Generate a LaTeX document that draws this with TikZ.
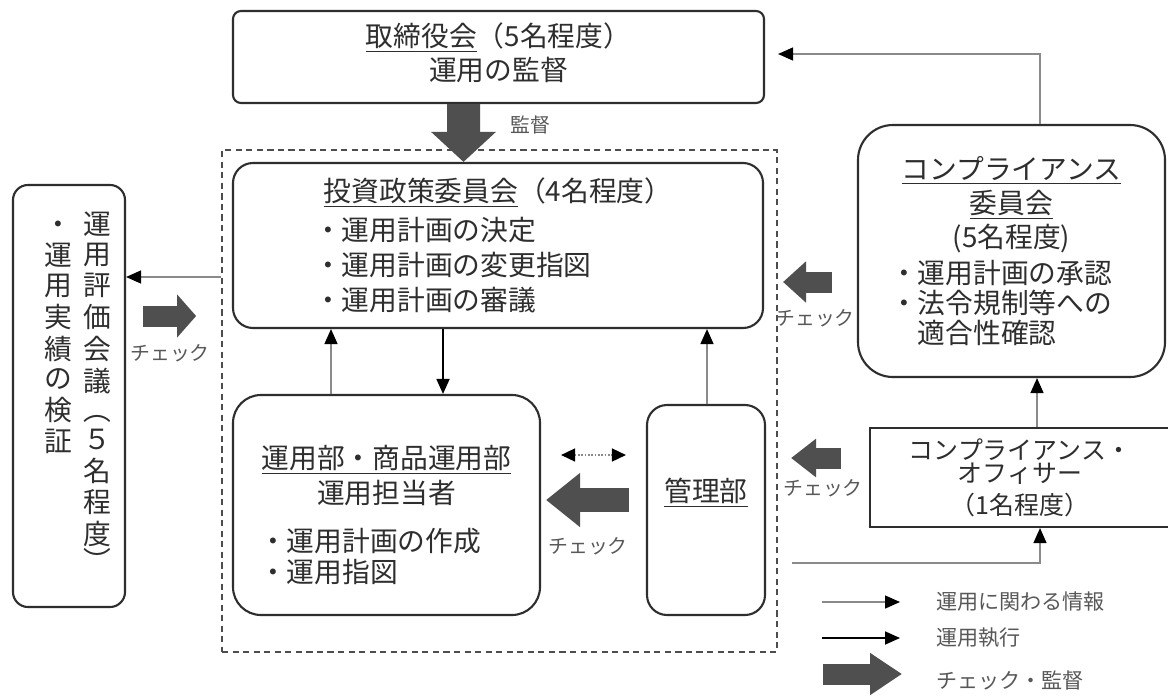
\documentclass[tikz,border=0pt]{standalone}
\usepackage{fontspec}
\setmainfont{Noto Sans CJK JP}
\usepackage{tikz}
\usetikzlibrary{arrows.meta,calc,positioning}
\definecolor{ink}{HTML}{2E2E2E}
\definecolor{infogray}{HTML}{8A8A8A}
\definecolor{chkfill}{HTML}{4F4F4F}
\newcommand{\vcol}[1]{\begin{tabular}[t]{@{}c@{}}#1\end{tabular}}

\begin{document}
\begin{tikzpicture}[
  x=0.2mm, y=-0.2mm,
  every node/.style={text=ink},
  box/.style={draw=ink, line width=1.2pt, fill=white, align=center, inner sep=0pt},
  txt/.style={font=\fontsize{15.8}{19.5}\selectfont},
  grpframe/.style={draw=ink!85, line width=1pt, dash pattern=on 3.5pt off 2.5pt,
                   inner sep=0pt},
  info/.style={draw=infogray, line width=0.8pt,
               -{Triangle[length=3mm,width=2.6mm,color=black]}},
  exec/.style={draw=black, line width=1pt, -{Triangle[length=3mm,width=2.6mm]}},
  dotdbl/.style={draw=infogray, line width=0.9pt, densely dotted,
                 {Triangle[length=2.8mm,width=2.6mm,color=black]}-{Triangle[length=2.8mm,width=2.6mm,color=black]}},
  chk/.style n args={3}{draw=chkfill, line width=#1,
                        -{Triangle[length=#2,width=#3]}},
  lbl/.style={font=\fontsize{11.3}{13}\selectfont, text=ink!80},
  lgd/.style={font=\fontsize{12}{14}\selectfont, text=ink!80, anchor=west},
]
\path[use as bounding box, fill=white] (0,0) rectangle (1168,695);

% ---------- board and group frame ----------
\node[box, rounded corners=1.6mm, minimum width=106.2mm, minimum height=18.4mm,
      label={[txt, align=center, yshift=0.8mm]center:{\underline{取締役会}（5名程度）\\運用の監督}}]
  (board) at (498.5,57) {};

\node[grpframe, minimum width=111mm, minimum height=100.4mm] (grp) at (499.5,401) {};

% ---------- inside the group ----------
\node[box, rounded corners=4mm, minimum width=106mm, minimum height=33mm,
      font=\fontsize{15.8}{19.8}\selectfont] (invest) at (498,245.5)
  {\underline{投資政策委員会}（4名程度）\\[0.8mm]
   \makebox[73.6mm][l]{・運用計画の決定}\\
   \makebox[73.6mm][l]{・運用計画の変更指図}\\
   \makebox[73.6mm][l]{・運用計画の審議}};

\node[box, rounded corners=5.6mm, minimum width=61.4mm, minimum height=44mm,
      label={[txt, align=center, yshift=-2mm]center:{\underline{運用部・商品運用部}\\
        運用担当者\\[2.8mm]
        \makebox[51mm][l]{・運用計画の作成}\\[-2pt]
        \makebox[51mm][l]{・運用指図}}}] (unyo) at (386.5,505) {};

\node[box, rounded corners=4mm, minimum width=23.6mm, minimum height=42mm, txt]
  (kanri) at (706,510) {\raisebox{8mm}{\underline{管理部}}};

% ---------- left and right committees ----------
\node[box, rounded corners=3mm, minimum width=22.4mm, minimum height=84.4mm,
      font=\fontsize{15.8}{16.4}\selectfont] (eval) at (69,396)
  {\hspace{3.4mm}\raisebox{4.4mm}{\begin{tabular}[t]{@{}c@{\hspace{2.2mm}}c@{}}
     \vcol{・\\運\\用\\実\\績\\の\\検\\証} &
     \vcol{運\\用\\評\\価\\会\\議\\︵\\５\\名\\程\\度\\[-3pt]︶}
   \end{tabular}}};

\node[box, rounded corners=7mm, minimum width=61.4mm, minimum height=50.4mm,
      font=\fontsize{15.8}{19.5}\selectfont] (compl) at (1011.5,251)
  {\underline{コンプライアンス}\\\underline{委員会}\\(5名程度)\\[1pt]
   \makebox[48.6mm][l]{・運用計画の承認}\\[-2.5pt]
   \makebox[48.6mm][l]{・法令規制等への}\\[-2.5pt]
   \makebox[48.6mm][l]{\hspace{1em}適合性確認}};

\node[box, minimum width=60mm, minimum height=19.8mm,
      font=\fontsize{14.2}{13.6}\selectfont] (officer) at (1020,477.5)
  {コンプライアンス・\\オフィサー\\[1.5mm]（1名程度）};

% ---------- thin flows ----------
\draw[info] (unyo.north -| 331,0) -- (invest.south -| 331,0);
\draw[exec] (invest.south -| 443,0) -- (unyo.north -| 443,0);
\draw[info] (kanri.north -| 707,0) -- (invest.south -| 707,0);
\draw[info] (grp.west |- 0,277) -- (eval.east |- 0,277);
\draw[info, shorten >=2.6mm] (compl.north -| 1040,0) |- (board.east |- 0,54);
\draw[info] (officer.north -| 1037,0) -- (compl.south -| 1037,0);
\draw[info, shorten <=2.8mm] (grp.east |- 0,563) -| (officer.south -| 1040,0);
\draw[dotdbl, shorten <=4mm, shorten >=4mm] (unyo.east |- 0,455) -- (kanri.west |- 0,455);

% ---------- check arrows ----------
\draw[chk={6.6mm}{6mm}{12.6mm}] ($(board.south)+(-35,0)$) -- ($(invest.north)+(-34.5,0)$);
\node[lbl] (kantoku) at (530,125) {監督};

\draw[chk={4.8mm}{6.8mm}{10.4mm}, shorten <=3.4mm, shorten >=1mm]
  (kanri.west |- 0,500) -- (unyo.east |- 0,500);
\node[lbl] (chk1) at (588,546) {チェック};

\draw[chk={4.2mm}{4.6mm}{8mm}, shorten <=5mm, shorten >=3.8mm]
  (compl.west |- 0,282) -- (invest.east |- 0,282);
\node[lbl] (chk2) at (815,318) {チェック};

\draw[chk={4.2mm}{5mm}{7.4mm}, shorten <=5.6mm, shorten >=5mm]
  (officer.west |- 0,458) -- (kanri.east |- 0,458);
\node[lbl] (chk3) at (823,488) {チェック};

\draw[chk={4.2mm}{3.8mm}{8.4mm}, shorten <=3.4mm, shorten >=5mm]
  (eval.east |- 0,316) -- (grp.west |- 0,316);
\node[lbl] (chk4) at (170,353) {チェック};

% ---------- legend ----------
\node[lgd] (lgi) at (930,602) {運用に関わる情報};
\node[lgd] (lge) at (930,638) {運用執行};
\node[lgd] (lgc) at (930,680) {チェック・監督};
\draw[info] ($(lgi.west)+(-108,0)$) -- ($(lgi.west)+(-30,0)$);
\draw[exec] ($(lge.west)+(-108,0)$) -- ($(lge.west)+(-30,0)$);
\draw[chk={4.2mm}{6.4mm}{8mm}] ($(lgc.west)+(-107,-6)$) -- ($(lgc.west)+(-28,-6)$);
\end{tikzpicture}
\end{document}
